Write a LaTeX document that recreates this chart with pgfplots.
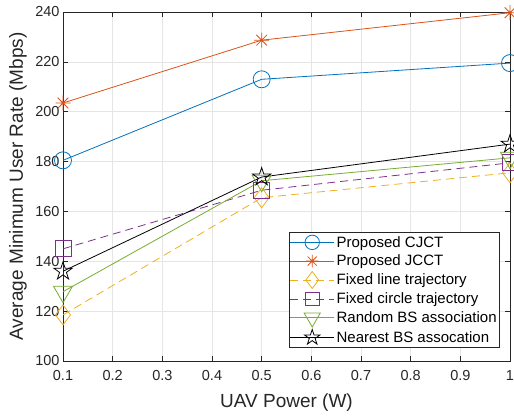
\documentclass[border=0pt]{standalone}
\usepackage{pgfplots}
\pgfplotsset{compat=1.18}
\usepackage{fontspec}
\setmainfont{Liberation Sans}
\usetikzlibrary{plotmarks}
\definecolor{mblue}{rgb}{0,0.447,0.741}
\definecolor{morange}{rgb}{0.85,0.325,0.098}
\definecolor{myellow}{rgb}{0.929,0.694,0.125}
\definecolor{mpurple}{rgb}{0.494,0.184,0.556}
\definecolor{mgreen}{rgb}{0.466,0.674,0.188}
\definecolor{maxis}{rgb}{0.15,0.15,0.15}
\pgfdeclareplotmark{mast}{%
 \pgfpathmoveto{\pgfqpoint{0pt}{\pgfplotmarksize}}\pgfpathlineto{\pgfqpoint{0pt}{-\pgfplotmarksize}}%
 \pgfpathmoveto{\pgfqpoint{\pgfplotmarksize}{0pt}}\pgfpathlineto{\pgfqpoint{-\pgfplotmarksize}{0pt}}%
 \pgfpathmoveto{\pgfqpoint{0.707\pgfplotmarksize}{0.707\pgfplotmarksize}}\pgfpathlineto{\pgfqpoint{-0.707\pgfplotmarksize}{-0.707\pgfplotmarksize}}%
 \pgfpathmoveto{\pgfqpoint{0.707\pgfplotmarksize}{-0.707\pgfplotmarksize}}\pgfpathlineto{\pgfqpoint{-0.707\pgfplotmarksize}{0.707\pgfplotmarksize}}%
 \pgfusepathqstroke}
\pgfdeclareplotmark{pent}{%
 \pgfpathmoveto{\pgfqpointpolar{90}{\pgfplotmarksize}}%
 \pgfpathlineto{\pgfqpointpolar{126}{0.382\pgfplotmarksize}}%
 \pgfpathlineto{\pgfqpointpolar{162}{\pgfplotmarksize}}%
 \pgfpathlineto{\pgfqpointpolar{198}{0.382\pgfplotmarksize}}%
 \pgfpathlineto{\pgfqpointpolar{234}{\pgfplotmarksize}}%
 \pgfpathlineto{\pgfqpointpolar{270}{0.382\pgfplotmarksize}}%
 \pgfpathlineto{\pgfqpointpolar{306}{\pgfplotmarksize}}%
 \pgfpathlineto{\pgfqpointpolar{342}{0.382\pgfplotmarksize}}%
 \pgfpathlineto{\pgfqpointpolar{18}{\pgfplotmarksize}}%
 \pgfpathlineto{\pgfqpointpolar{54}{0.382\pgfplotmarksize}}%
 \pgfpathclose\pgfusepathqstroke}
\pgfdeclareplotmark{tridown}{%
 \pgfpathmoveto{\pgfqpointpolar{270}{\pgfplotmarksize}}%
 \pgfpathlineto{\pgfqpointpolar{30}{\pgfplotmarksize}}%
 \pgfpathlineto{\pgfqpointpolar{150}{\pgfplotmarksize}}%
 \pgfpathclose\pgfusepathqstroke}
\begin{document}
\begin{tikzpicture}
\begin{axis}[
  scale only axis, width=447pt, height=349pt,
  xmin=0.1, xmax=1, ymin=100, ymax=240,
  xtick={0.1,0.2,...,1.0}, ytick={100,120,...,240},
  xticklabels={0.1,0.2,0.3,0.4,0.5,0.6,0.7,0.8,0.9,1},
  /pgf/number format/assume math mode=true,
  tick label style={font=\fontsize{14.5}{17}\selectfont, text=maxis},
  xticklabel style={anchor=center, yshift=-15pt},
  tick align=inside, major tick length=5pt,
  tick style={maxis, line width=0.6pt},
  axis line style={maxis, line width=0.6pt},
  grid=major, grid style={gray!20, line width=0.5pt},
  xlabel={UAV Power (W)}, ylabel={Average Minimum User Rate (Mbps)},
  label style={font=\fontsize{19}{22}\selectfont, text=maxis},
  xlabel style={at={(axis description cs:0.5,-0.1203)}, anchor=center},
  ylabel style={at={(axis description cs:-0.1007,0.5)}, anchor=center},
  legend cell align=left,
  legend style={at={(axis description cs:1,0)}, anchor=south east, xshift=-10pt, yshift=13pt,
    font=\fontsize{15}{17}\selectfont, draw=maxis, line width=0.6pt, fill=white,
    row sep=2.3pt, inner xsep=1pt, inner ysep=2pt,
    nodes={inner xsep=2pt}},
  legend image code/.code={\draw[mark repeat=2,mark phase=2, every mark/.append style={scale=0.85}] plot coordinates {(0pt,0pt) (22pt,0pt) (44pt,0pt)};},
  every axis plot/.append style={line width=0.8pt},
]
\addplot[mblue, mark=o, mark size=8.5pt] coordinates {(0.1,180.5) (0.5,213) (1,219.5)};
\addlegendentry{Proposed CJCT}
\addplot[morange, mark=mast, mark size=7.5pt] coordinates {(0.1,203.5) (0.5,228.7) (1,239.7)};
\addlegendentry{Proposed JCCT}
\addplot[myellow, dash pattern=on 8pt off 5pt, mark=diamond, mark size=10pt, mark options={solid}] coordinates {(0.1,118.5) (0.5,165.5) (1,175.5)};
\addlegendentry{Fixed line trajectory}
\addplot[mpurple, dash pattern=on 8pt off 5pt, mark=square, mark size=8pt, mark options={solid}] coordinates {(0.1,145) (0.5,168.5) (1,179.5)};
\addlegendentry{Fixed circle trajectory}
\addplot[mgreen, mark=tridown, mark size=11pt] coordinates {(0.1,127.8) (0.5,172.3) (1,181.5)};
\addlegendentry{Random BS association}
\addplot[black, mark=pent, mark size=9.5pt] coordinates {(0.1,136) (0.5,173.8) (1,187)};
\addlegendentry{Nearest BS assocation}
\end{axis}
\pgfresetboundingbox
\path[use as bounding box] ([xshift=-63pt,yshift=-55pt]current axis.south west) rectangle ([xshift=4pt,yshift=12pt]current axis.north east);
\end{tikzpicture}
\end{document}
